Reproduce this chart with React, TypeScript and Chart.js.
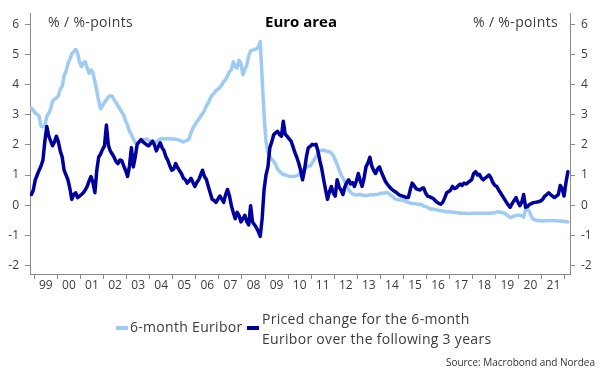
import React, { useEffect, useRef } from 'react';
import { Chart, registerables } from 'chart.js';

Chart.register(...registerables);

// ---------- DATA ----------
const START_YEAR = 1998;
const START_MONTH = 11; // first observation: November 1998, monthly

// 6-month Euribor, %
const euribor6m: number[] = [
  3.22, 3.15,
  3.05, 3.02, 2.95, 2.62, 2.6, 2.65, 2.95, 3.05, 3.2, 3.45, 3.52, 3.55,
  3.63, 3.85, 3.95, 4.3, 4.45, 4.7, 4.85, 5.03, 5.1, 5.17, 5.05, 4.75,
  4.6, 4.72, 4.76, 4.55, 4.38, 4.49, 4.4, 4.1, 3.8, 3.45, 3.2, 3.3,
  3.41, 3.5, 3.6, 3.63, 3.62, 3.5, 3.41, 3.3, 3.2, 3.09, 2.98, 2.8,
  2.65, 2.45, 2.35, 2.2, 2.07, 2.05, 2.1, 2.15, 2.18, 2.18, 2.2, 2.15,
  2.1, 2.07, 2.05, 2.1, 2.15, 2.2, 2.21, 2.2, 2.2, 2.21, 2.2, 2.2,
  2.2, 2.19, 2.18, 2.15, 2.13, 2.1, 2.13, 2.15, 2.2, 2.4, 2.56, 2.65,
  2.77, 2.85, 2.95, 3.04, 3.15, 3.3, 3.4, 3.55, 3.65, 3.72, 3.8, 3.85,
  3.9, 4.0, 4.1, 4.17, 4.3, 4.44, 4.5, 4.76, 4.6, 4.55, 4.81, 4.7,
  4.33, 4.5, 4.65, 4.95, 5.13, 5.15, 5.17, 5.19, 5.25, 5.43, 4.2, 3.0,
  2.1, 1.75, 1.62, 1.52, 1.45, 1.35, 1.2, 1.12, 1.06, 1.02, 1.0, 0.98,
  0.96, 0.95, 0.95, 0.96, 0.98, 1.0, 1.1, 1.18, 1.2, 1.25, 1.3, 1.3,
  1.4, 1.5, 1.6, 1.75, 1.8, 1.82, 1.83, 1.8, 1.78, 1.78, 1.72, 1.65,
  1.5, 1.35, 1.18, 1.0, 0.9, 0.78, 0.65, 0.52, 0.42, 0.37, 0.35, 0.33,
  0.35, 0.36, 0.33, 0.33, 0.32, 0.33, 0.34, 0.34, 0.34, 0.35, 0.35, 0.38,
  0.4, 0.39, 0.41, 0.42, 0.38, 0.32, 0.28, 0.22, 0.19, 0.18, 0.17, 0.17,
  0.14, 0.11, 0.09, 0.07, 0.05, 0.05, 0.04, 0.03, 0.03, 0.01, -0.03, -0.05,
  -0.07, -0.12, -0.13, -0.14, -0.15, -0.16, -0.18, -0.19, -0.2, -0.21, -0.22, -0.22,
  -0.23, -0.24, -0.24, -0.25, -0.25, -0.27, -0.27, -0.27, -0.27, -0.28, -0.28, -0.27,
  -0.27, -0.27, -0.27, -0.27, -0.27, -0.27, -0.27, -0.27, -0.27, -0.26, -0.26, -0.25,
  -0.23, -0.23, -0.24, -0.25, -0.27, -0.32, -0.37, -0.42, -0.4, -0.36, -0.35, -0.34,
  -0.33, -0.36, -0.4, -0.15, -0.14, -0.22, -0.38, -0.47, -0.49, -0.51, -0.52, -0.52,
  -0.53, -0.52, -0.52, -0.52, -0.51, -0.51, -0.52, -0.52, -0.53, -0.53, -0.53, -0.55,
  -0.55, -0.56,
];

// Priced change for the 6-month Euribor over the following 3 years, %-points
const pricedChange: number[] = [
  0.35, 0.5,
  0.84, 1.0, 1.16, 1.3, 1.5, 2.13, 2.61, 2.3, 2.13, 1.97, 2.1, 2.29,
  2.1, 1.8, 1.6, 1.16, 1.0, 0.84, 0.55, 0.19, 0.35, 0.41, 0.25, 0.3,
  0.35, 0.41, 0.5, 0.62, 0.8, 0.95, 0.75, 0.41, 1.16, 1.6, 1.7, 1.85,
  1.97, 2.66, 2.0, 1.8, 1.7, 1.59, 1.45, 1.38, 1.5, 1.48, 1.3, 1.15,
  0.95, 1.3, 1.91, 1.27, 1.6, 2.02, 2.1, 2.18, 2.1, 2.05, 2.0, 1.97,
  2.05, 2.13, 2.0, 1.8, 1.95, 2.07, 1.9, 1.8, 1.6, 1.48, 1.3, 1.16,
  1.2, 1.38, 1.25, 1.15, 1.05, 0.9, 0.85, 0.73, 0.8, 0.89, 0.75, 0.62,
  0.75, 0.84, 1.0, 1.16, 0.95, 0.85, 0.62, 0.4, 0.19, 0.15, 0.09, 0.2,
  0.3, 0.2, 0.09, 0.35, 0.52, 0.3, -0.02, -0.25, -0.45, -0.24, -0.35, -0.56,
  -0.45, -0.34, -0.55, -0.66, -0.02, -0.56, -0.65, -0.75, -0.88, -1.04, -0.45, 0.52,
  1.0, 1.27, 1.91, 2.1, 2.34, 2.4, 2.45, 2.35, 2.29, 2.79, 2.35, 2.29,
  2.2, 2.13, 1.95, 1.75, 1.59, 1.4, 1.16, 0.84, 1.16, 1.6, 1.91, 1.95,
  2.02, 2.0, 2.02, 1.8, 1.48, 1.2, 0.84, 0.5, 0.19, 0.45, 0.62, 0.4,
  0.3, 0.84, 0.6, 0.5, 0.35, 0.6, 0.75, 0.84, 0.7, 0.75, 0.62, 0.8,
  1.05, 0.8, 0.62, 0.9, 1.27, 1.4, 1.59, 1.3, 1.15, 1.05, 1.2, 1.27,
  1.1, 0.95, 0.8, 0.7, 0.62, 0.55, 0.5, 0.45, 0.41, 0.35, 0.32, 0.3,
  0.28, 0.25, 0.25, 0.5, 0.73, 0.65, 0.55, 0.52, 0.5, 0.55, 0.57, 0.4,
  0.3, 0.28, 0.25, 0.22, 0.15, 0.09, 0.05, 0.03, 0.1, 0.25, 0.41, 0.45,
  0.5, 0.62, 0.55, 0.57, 0.65, 0.7, 0.65, 0.73, 0.7, 0.75, 0.79, 0.85,
  1.05, 1.11, 1.0, 1.02, 0.9, 0.84, 0.9, 0.95, 1.0, 0.9, 0.75, 0.65,
  0.62, 0.5, 0.4, 0.3, 0.2, 0.1, 0.0, -0.07, 0.05, 0.15, 0.25, 0.1,
  -0.02, 0.1, 0.35, -0.07, -0.05, 0.02, 0.05, 0.08, 0.09, 0.1, 0.12, 0.14,
  0.2, 0.3, 0.35, 0.41, 0.35, 0.3, 0.25, 0.3, 0.35, 0.65, 0.55, 0.3,
  0.75, 1.11,
];

const yearTicks: number[] = [
  1999, 2000, 2001, 2002, 2003, 2004, 2005, 2006, 2007, 2008, 2009, 2010,
  2011, 2012, 2013, 2014, 2015, 2016, 2017, 2018, 2019, 2020, 2021, 2022,
];
const yearLabels: string[] = [
  '99', '00', '01', '02', '03', '04', '05', '06', '07', '08', '09', '10',
  '11', '12', '13', '14', '15', '16', '17', '18', '19', '20', '21',
];
const yTicks: number[] = [-2, -1, 0, 1, 2, 3, 4, 5, 6];

const TITLE = 'Euro area';
const UNIT_LABEL = '% / %-points';
const SERIES_1 = '6-month Euribor';
const SERIES_2: string[] = ['Priced change for the 6-month', 'Euribor over the following 3 years'];
const SOURCE = 'Source: Macrobond and Nordea';

// ---------- STYLE ----------
const FONT = '"Open Sans", "Noto Sans", sans-serif';
const LIGHT = '#9dcbf4';
const DARK = '#00009e';
const AXIS = '#8a8a8a';
const TEXT = '#3c3c3c';

const X_MIN = 1998.8136;
const X_MAX = 2022.2167;
const Y_MIN = -2.29;
const Y_MAX = 6.377;

function monthPos(i: number): number {
  const m = START_MONTH - 1 + i;
  return START_YEAR + Math.floor(m / 12) + ((m % 12) + 0.5) / 12;
}

const overlayPlugin = {
  id: 'overlay',
  afterDraw(chart: any) {
    const ctx = chart.ctx as any;
    ctx.save();
    ctx.textBaseline = 'alphabetic';
    // unit labels
    ctx.fillStyle = TEXT;
    ctx.font = `14px ${FONT}`;
    ctx.letterSpacing = '0.35px';
    ctx.textAlign = 'left';
    ctx.fillText(UNIT_LABEL, 48, 27);
    ctx.textAlign = 'right';
    ctx.fillText(UNIT_LABEL, 558, 27);
    // title
    ctx.letterSpacing = '0px';
    ctx.fillStyle = '#000000';
    ctx.font = `bold 15px ${FONT}`;
    ctx.textAlign = 'center';
    ctx.fillText(TITLE, 301, 27);

    // legend
    ctx.textBaseline = 'middle';
    ctx.textAlign = 'left';
    ctx.font = `14px ${FONT}`;
    ctx.letterSpacing = '0.3px';
    ctx.fillStyle = LIGHT;
    ctx.fillRect(116, 326, 12, 4);
    ctx.fillStyle = TEXT;
    ctx.fillText(SERIES_1, 130, 328);
    ctx.fillStyle = DARK;
    ctx.fillRect(247, 326, 12, 4);
    ctx.fillStyle = TEXT;
    ctx.fillText(SERIES_2[0], 262, 320);
    ctx.fillText(SERIES_2[1], 262, 340);

    // source
    ctx.letterSpacing = '0px';
    ctx.font = `10px ${FONT}`;
    ctx.textAlign = 'right';
    ctx.fillStyle = '#333333';
    ctx.fillText(SOURCE, 595, 363);
    ctx.restore();
  },
};

export default function App() {
  const ref = useRef<HTMLCanvasElement | null>(null);

  useEffect(() => {
    if (!ref.current) return;
    const xTickValues: number[] = [];
    yearTicks.forEach((y) => xTickValues.push(y));
    yearLabels.forEach((_, i) => xTickValues.push(yearTicks[i] + 0.5));
    xTickValues.sort((a, b) => a - b);

    const yScale = (side: 'left' | 'right', width: number) => ({
      type: 'linear' as const,
      position: side,
      min: Y_MIN,
      max: Y_MAX,
      afterBuildTicks: (s: any) => {
        s.ticks = yTicks.map((v) => ({ value: v }));
      },
      afterFit: (s: any) => {
        s.width = width;
      },
      grid: { drawOnChartArea: false, drawTicks: true, tickLength: 5, color: AXIS, lineWidth: 1 },
      border: { display: true, color: AXIS, width: 1 },
      ticks: {
        padding: 6,
        color: TEXT,
        font: { family: FONT, size: 12 },
        callback: (v: any) => String(v),
      },
    });

    const chart = new Chart(ref.current, {
      type: 'line',
      data: {
        datasets: [
          {
            label: SERIES_1,
            data: euribor6m.map((v, i) => ({ x: monthPos(i), y: v })),
            borderColor: LIGHT,
            backgroundColor: LIGHT,
            borderWidth: 3.5,
            pointRadius: 0,
            order: 2,
            yAxisID: 'y',
          },
          {
            label: SERIES_2.join(' '),
            data: pricedChange.map((v, i) => ({ x: monthPos(i), y: v })),
            borderColor: DARK,
            backgroundColor: DARK,
            borderWidth: 3.5,
            pointRadius: 0,
            order: 1,
            yAxisID: 'y',
          },
        ],
      },
      options: {
        animation: false,
        responsive: false,
        devicePixelRatio: 1,
        layout: { padding: { top: 5, bottom: 82, left: 0, right: 0 } },
        elements: { line: { tension: 0, borderJoinStyle: 'round', borderCapStyle: 'round' } },
        plugins: {
          legend: { display: false },
          tooltip: { enabled: false },
          title: { display: false },
        },
        scales: {
          x: {
            type: 'linear',
            min: X_MIN,
            max: X_MAX,
            afterBuildTicks: (s: any) => {
              s.ticks = xTickValues.map((v) => ({ value: v }));
            },
            afterFit: (s: any) => {
              s.height = 25;
            },
            grid: {
              drawOnChartArea: false,
              drawTicks: true,
              tickLength: 5,
              color: (c: any) =>
                c.tick && Number.isInteger(c.tick.value) ? AXIS : 'rgba(0,0,0,0)',
            },
            border: { display: true, color: AXIS, width: 1 },
            ticks: {
              autoSkip: false,
              maxRotation: 0,
              minRotation: 0,
              padding: -1,
              color: TEXT,
              font: { family: FONT, size: 12 },
              callback: (v: any) => {
                const n = Number(v);
                if (Number.isInteger(n)) return '';
                const idx = yearTicks.indexOf(Math.floor(n));
                return idx >= 0 && idx < yearLabels.length ? yearLabels[idx] : '';
              },
            },
          },
          y: yScale('left', 30),
          y2: yScale('right', 32),
        },
      },
      plugins: [overlayPlugin],
    } as any);
    return () => chart.destroy();
  }, []);

  return (
    <div style={{ position: 'fixed', left: 0, top: 0, width: 602, height: 381, background: '#ffffff' }}>
      <canvas ref={ref} width={602} height={381} style={{ display: 'block', width: 602, height: 381 }} />
    </div>
  );
}
